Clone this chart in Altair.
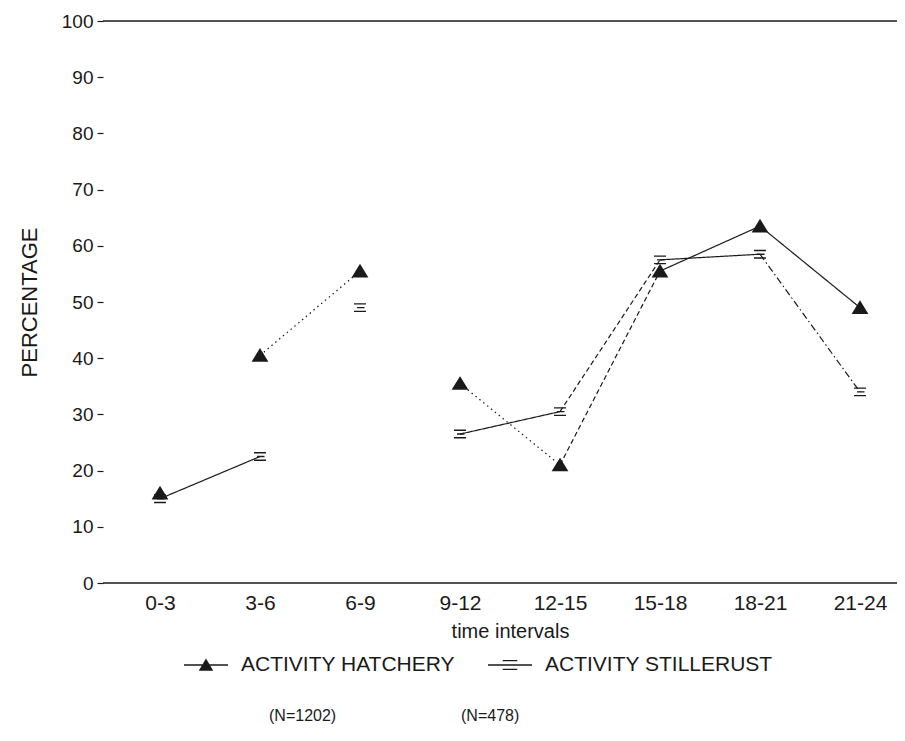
import altair as alt
import pandas as pd

# ---- data ----
intervals = ["0-3", "3-6", "6-9", "9-12", "12-15", "15-18", "18-21", "21-24"]
hatchery = [16, 40.5, 55.5, 35.5, 21, 55.5, 63.5, 49]
stillerust = [15, 22.5, 49, 26.5, 30.5, 57.5, 58.5, 34]
series_names = ["ACTIVITY HATCHERY", "ACTIVITY STILLERUST"]
series_n = ["(N=1202)", "(N=478)"]
# connecting segments visible in the figure: (start interval index, line style)
hatchery_links = [(1, "dotted"), (3, "dotted"), (4, "dashed"), (5, "solid"), (6, "solid")]
stillerust_links = [(0, "solid"), (3, "solid"), (4, "dashed"), (5, "solid"), (6, "dashdot")]
y_ticks = [0, 10, 20, 30, 40, 50, 60, 70, 80, 90, 100]
frame_lines = [0, 100]

FONT = "Liberation Sans"
INK = "#1a1a1a"

# ---- tables ----
pts = pd.DataFrame(
    [{"interval": iv, "value": v, "series": series_names[0]} for iv, v in zip(intervals, hatchery)]
    + [{"interval": iv, "value": v, "series": series_names[1]} for iv, v in zip(intervals, stillerust)]
)

seg_rows = []
for name, vals, links in [(series_names[0], hatchery, hatchery_links),
                          (series_names[1], stillerust, stillerust_links)]:
    for i, style in links:
        seg_rows.append({"interval": intervals[i], "interval2": intervals[i + 1],
                         "value": vals[i], "value2": vals[i + 1],
                         "series": name, "style": style})
segs = pd.DataFrame(seg_rows)
frame = pd.DataFrame({"value": frame_lines})
leg = pd.DataFrame({"series": series_names, "n": series_n})

x_scale = alt.Scale(type="point", domain=intervals, range=[57, 757], padding=0)
y_scale = alt.Scale(domain=[0, 100], nice=False)

X = alt.X("interval:N", scale=x_scale, sort=intervals, title="time intervals")
Y = alt.Y("value:Q", scale=y_scale, title="PERCENTAGE",
          axis=alt.Axis(values=y_ticks))

tri_path = "M0,-0.8L0.95,0.75L-0.95,0.75Z"
still_path = "M-0.8,-0.5L0.8,-0.5M-0.8,0.5L0.8,0.5M-0.4,0L0.6,0"
# legend glyphs drawn as filled shapes only (line through the marker)
bar = "M-1,-0.03L1,-0.03L1,0.03L-1,0.03Z"
leg_tri = bar + "M0,-0.3L0.33,0.26L-0.33,0.26Z"
leg_still = (bar + "M-0.33,-0.23L0.33,-0.23L0.33,-0.17L-0.33,-0.17Z"
             + "M-0.33,0.17L0.33,0.17L0.33,0.23L-0.33,0.23Z")

frame_rule = alt.Chart(frame).mark_rule(color=INK, strokeWidth=1.7).encode(
    y=alt.Y("value:Q", scale=y_scale))

lines = alt.Chart(segs).mark_rule(color=INK, strokeWidth=1.2).encode(
    x=X, x2="interval2:N", y=Y, y2="value2:Q",
    strokeDash=alt.StrokeDash("style:N",
                              scale=alt.Scale(domain=["solid", "dotted", "dashed", "dashdot"],
                                              range=[[1, 0], [1.5, 3.5], [5, 3], [7, 3, 1.5, 3]]),
                              legend=None),
)

points = alt.Chart(pts).mark_point(filled=False, fill=INK, stroke=INK, strokeWidth=1.4,
                                   size=225, opacity=1, fillOpacity=1, strokeOpacity=1).encode(
    x=X, y=Y,
    shape=alt.Shape("series:N", scale=alt.Scale(domain=series_names, range=[tri_path, still_path]),
                    legend=None),
)

legend_shapes = alt.Chart(leg).mark_point(filled=True, color=INK, opacity=1).encode(
    shape=alt.Shape("series:N",
                    scale=alt.Scale(domain=series_names, range=[leg_tri, leg_still]),
                    legend=alt.Legend(orient="none", legendX=80, legendY=621, direction="horizontal",
                                      title=None, symbolSize=1936, symbolFillColor=INK,
                                      symbolOpacity=1,
                                      labelFont=FONT, labelFontSize=21, labelColor=INK,
                                      labelOffset=12, columnPadding=30, labelLimit=0)),
).transform_filter("false")

legend_n = alt.Chart(leg).mark_point(opacity=1).encode(
    color=alt.Color("n:N", scale=alt.Scale(domain=series_n, range=["white", "white"]),
                    legend=alt.Legend(orient="none", legendX=150, legendY=687, direction="horizontal",
                                      title=None, symbolSize=1, symbolOpacity=0,
                                      symbolStrokeWidth=0, labelOffset=0,
                                      labelFont=FONT, labelFontSize=16, labelColor=INK,
                                      columnPadding=108, labelLimit=0)),
).transform_filter("false")

chart = alt.layer(frame_rule, lines, points, legend_shapes, legend_n).resolve_scale(
    shape="independent"
).properties(
    width=794, height=562, autosize="none",
    padding={"left": 95, "top": 13, "right": 0, "bottom": 150},
).configure_view(stroke=None).configure_axisX(
    domain=False, ticks=False, labelAngle=0,
    labelFont=FONT, labelFontSize=21, labelColor=INK, labelPadding=9,
    titleFont=FONT, titleFontSize=20, titleFontWeight="normal", titleColor=INK, titlePadding=8,
    grid=False,
).configure_axisY(
    domain=False, ticks=True, tickSize=6, tickColor=INK, tickWidth=1.2,
    labelFont=FONT, labelFontSize=19, labelColor=INK, labelPadding=4,
    titleFont=FONT, titleFontSize=22, titleFontWeight="normal", titleColor=INK, titlePadding=20,
    grid=False,
)

chart.save("out.html", embed_options={"renderer": "svg", "actions": False})
